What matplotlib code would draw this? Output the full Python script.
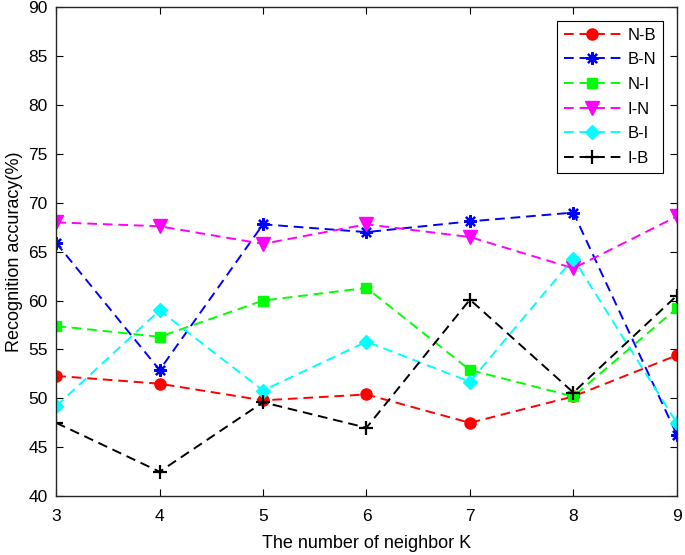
import matplotlib.pyplot as plt

plt.rcParams['font.family'] = ['Liberation Sans', 'DejaVu Sans']

k = [3, 4, 5, 6, 7, 8, 9]
n_b = [52.3, 51.5, 49.8, 50.4, 47.5, 50.2, 54.4]
b_n = [65.9, 52.9, 67.8, 67.0, 68.1, 69.0, 46.3]
n_i = [57.4, 56.3, 60.0, 61.3, 52.9, 50.2, 59.2]
i_n = [68.0, 67.6, 65.8, 67.8, 66.5, 63.3, 68.6]
b_i = [49.2, 59.0, 50.8, 55.8, 51.7, 64.3, 47.5]
i_b = [47.5, 42.5, 49.6, 47.0, 60.1, 50.6, 60.5]
labels = ['N-B', 'B-N', 'N-I', 'I-N', 'B-I', 'I-B']

fig = plt.figure(figsize=(6.85, 5.55), dpi=100)
ax = fig.add_axes([0.082, 0.106, 0.906, 0.881])

styles = [
    (n_b, '#FF0000', 'o', 8, 1.0),
    (b_n, '#0000FF', (8, 2, 0), 9, 1.6),
    (n_i, '#00FF00', 's', 7, 1.0),
    (i_n, '#FF00FF', 'v', 10, 1.0),
    (b_i, '#00FFFF', 'D', 7.5, 1.0),
    (i_b, '#000000', '+', 10, 1.6),
]
for (vals, c, m, ms, mew), lab in zip(styles, labels):
    ax.plot(k, vals, color=c, marker=m, markersize=ms, markeredgewidth=mew,
            linestyle=(0, (5, 3)), linewidth=1.4, label=lab)

ax.set_xlim(3, 9)
ax.set_ylim(40, 90)
ax.set_xticks(k)
ax.set_yticks(range(40, 91, 5))
ax.tick_params(direction='in', top=True, right=True, length=5, labelsize=12.5)
ax.tick_params(axis='x', pad=9)
ax.tick_params(axis='y', pad=6)
for s in ax.spines.values():
    s.set_color('#262626')
    s.set_linewidth(1.0)
ax.set_xlabel('The number of neighbor K', fontsize=13, labelpad=8)
ax.set_ylabel('Recognition accuracy(%)', fontsize=13, labelpad=4)

leg = ax.legend(loc='upper right', bbox_to_anchor=(0.977, 0.972), numpoints=1,
                handlelength=3.4, fontsize=12, fancybox=False, framealpha=1,
                edgecolor='k', borderpad=0.4, labelspacing=0.58, handletextpad=0.4,
                borderaxespad=0)
leg.get_frame().set_linewidth(0.8)

fig.savefig('out.png', dpi=100)
